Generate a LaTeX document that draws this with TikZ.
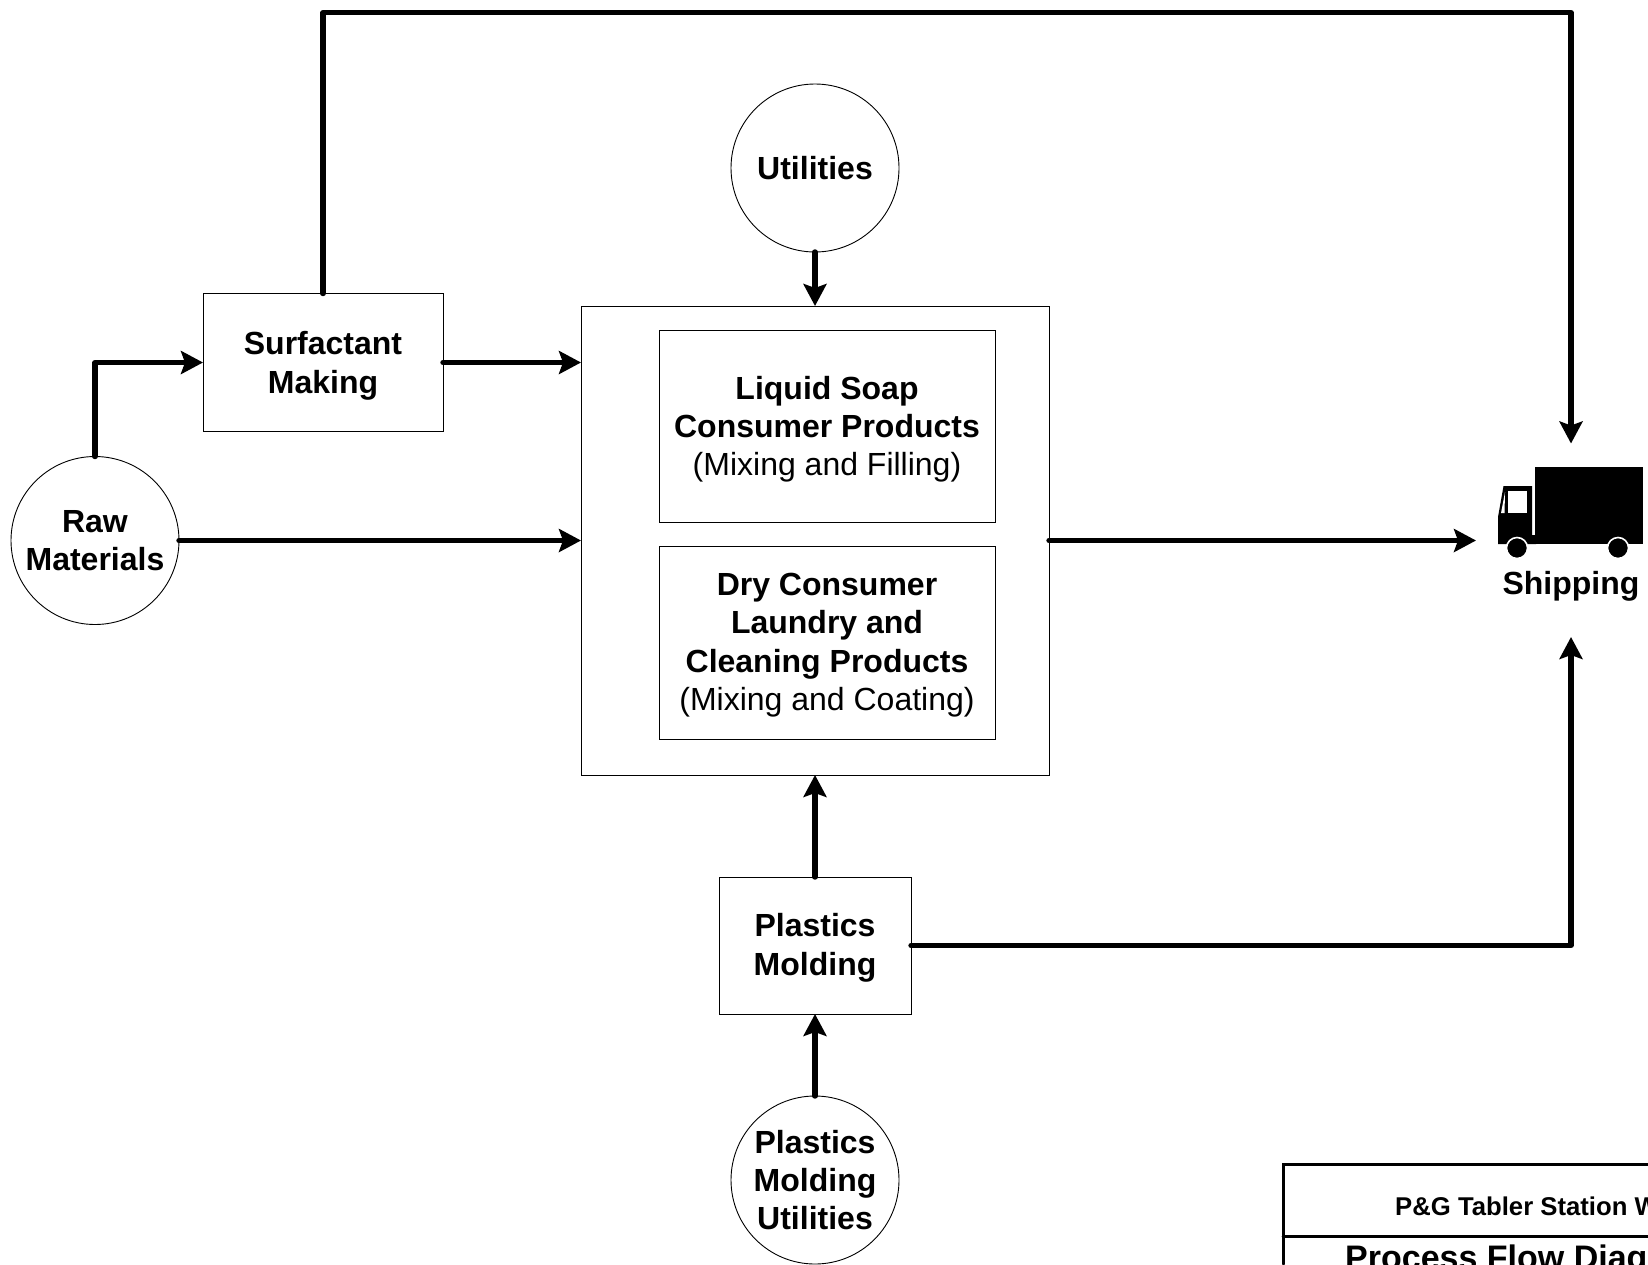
\documentclass[tikz,border=0pt]{standalone}
\usepackage{fontspec}
\setmainfont{Liberation Sans}
\usetikzlibrary{arrows.meta}
\tikzset{
  lbl/.style={font=\fontsize{32}{38.4}\selectfont\bfseries,align=center,inner sep=0pt,outer sep=0pt},
  boxn/.style={lbl,draw=black,line width=0.9pt,rectangle,fill=white},
  circn/.style={lbl,draw=black,line width=0.9pt,circle,minimum size=168pt,fill=white},
  flow/.style={line width=5.4pt,line cap=round,line join=round,-{Stealth[length=22pt,width=23pt,inset=4pt]}},
  tbl/.style={line width=3pt,line cap=round}
}
\newcommand{\lighttext}[1]{{\mdseries #1}}
\newcommand{\downa}{\rule{0pt}{29.5pt}}
\newcommand{\downb}{\rule{0pt}{27.5pt}}
\begin{document}
\begin{tikzpicture}[x=1pt,y=-1pt]
\useasboundingbox (0,0) rectangle (1648,1264);
\begin{scope}
\clip (0,0) rectangle (1648,1264);

% truck
\fill (1534.7,467) rectangle (1643,544);
\fill (1498,544) -- (1498,517) -- (1503.5,486) -- (1532,486) -- (1532,535) -- (1536,535) -- (1536,544) -- cycle;
\fill[white] (1508,491) rectangle (1527,513);
\fill[white] (1504.5,513) -- (1501,513) -- (1505,492) -- cycle;
\fill[black,draw=white,line width=1.6pt] (1517,548) circle (10.5pt);
\fill[black,draw=white,line width=1.6pt] (1618,548) circle (10.5pt);

% nodes
\node[circn] (raw) at (95,540.5) {Raw\\Materials};
\node[boxn,minimum width=240pt,minimum height=138pt] (surf) at (323,362.5) {\downa Surfactant\\Making};
\node[circn] (util) at (815,168) {Utilities};
\node[boxn,minimum width=468pt,minimum height=469pt] (main) at (815,540.5) {};
\node[boxn,minimum width=336pt,minimum height=192pt] (soap) at (827,426) {\downa Liquid Soap\\Consumer Products\\\lighttext{(Mixing and Filling)}};
\node[boxn,minimum width=336pt,minimum height=193pt] (dry) at (827,642.5) {\downb Dry Consumer\\Laundry and\\Cleaning Products\\\lighttext{(Mixing and Coating)}};
\node[boxn,minimum width=192pt,minimum height=137pt] (plast) at (815,945.5) {\downb Plastics\\Molding};
\node[circn] (pmu) at (815,1180) {Plastics\\Molding\\Utilities};
\node[lbl] (ship) at (1571,586) {Shipping};

% connector ends at the truck
\coordinate (shipTop) at (1571,443.5);
\coordinate (shipLeft) at (1476,540.5);
\coordinate (shipBottom) at (1571,637);
\coordinate (topLeft) at (323,12.5);
\coordinate (topRight) at (1571,12.5);

% connectors
\draw[flow] (raw.north) -- (raw.north |- surf.west) -- (surf.west);
\draw[flow] (surf.east) -- (surf.east -| main.west);
\draw[flow] (raw.east) -- (raw.east -| main.west);
\draw[flow] (util.south) -- (main.north);
\draw[flow] (plast.north) -- (main.south);
\draw[flow] (pmu.north) -- (plast.south);
\draw[flow] (main.east) -- (shipLeft);
\draw[flow] (surf.north) -- (topLeft) -- (topRight) -- (shipTop);
\draw[flow] (plast.east) -- (plast.east -| shipBottom) -- (shipBottom);

% title block
\coordinate (tblA) at (1283,1164);
\coordinate (tblB) at (1648,1164);
\coordinate (tblC) at (1283,1236);
\coordinate (tblD) at (1648,1236);
\coordinate (tblE) at (1283,1264);
\draw[tbl] (tblB) -- (tblA) -- (tblE);
\draw[tbl] (tblC) -- (tblD);
\node[font=\fontsize{25.7}{30}\selectfont\bfseries,anchor=base west,inner sep=0pt] (tblT1) at (1395,1215.5) {P\&G Tabler Station W};
\node[font=\fontsize{34}{40}\selectfont\bfseries,anchor=base west,inner sep=0pt] (tblT2) at (1345,1269) {Process Flow Diag};
\end{scope}
\end{tikzpicture}
\end{document}
